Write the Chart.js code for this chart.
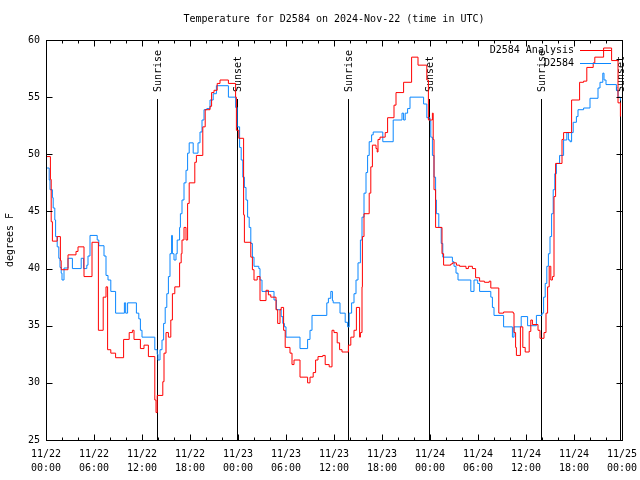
<!DOCTYPE html>
<html>
<head>
<meta charset="utf-8">
<script src="https://cdn.jsdelivr.net/npm/chart.js@4/dist/chart.umd.min.js"></script>
<style>
html,body{margin:0;padding:0;background:#fff;}
#wrap{width:640px;height:480px;}
</style>
</head>
<body>
<div id="wrap"><canvas id="c" width="640" height="480"></canvas></div>
<script>
// ---- data (hours since 11/22 00:00 UTC, degrees F) ----
const titleText = 'Temperature for D2584 on 2024-Nov-22 (time in UTC)';
const yAxisTitle = 'degrees F';
const seriesNames = ['D2584 Analysis', 'D2584'];

const xTickDates = ['11/22','11/22','11/22','11/22','11/23','11/23','11/23','11/23','11/24','11/24','11/24','11/24','11/25'];
const xTickTimes = ['00:00','06:00','12:00','18:00','00:00','06:00','12:00','18:00','00:00','06:00','12:00','18:00','00:00'];
const yTickValues = [25, 30, 35, 40, 45, 50, 55, 60];

const sunHours  = [13.83, 23.83, 37.8, 47.83, 61.83, 71.7];
const sunLabels = ['Sunrise','Sunset','Sunrise','Sunset','Sunrise','Sunset'];

const redHours = [0,0.55,0.65,0.8,1.4,1.8,1.9,2.75,3.75,4.0,4.75,5.75,6.55,7.15,7.5,7.7,8.1,8.7,9.7,10.4,10.8,11.0,11.8,12.25,12.8,13.6,13.75,13.9,14.6,14.75,15.0,15.3,15.6,15.8,16.1,16.7,16.9,17.0,17.25,17.5,17.7,17.9,18.6,18.8,19.6,19.9,20.5,20.7,21.0,21.4,21.75,22.8,23.7,23.8,24.1,24.7,24.8,25.6,25.8,26.0,26.4,26.75,27.5,27.8,28.1,28.75,28.96,29.25,29.4,29.7,29.9,30.5,30.75,31.0,31.75,32.7,33.0,33.4,33.7,34.0,34.6,34.9,35.4,35.75,36.0,36.4,36.7,37.0,37.8,38.1,38.5,38.8,39.2,39.3,39.5,39.55,39.75,40.4,40.6,40.8,41.25,41.4,41.5,41.75,42.4,42.7,43.5,43.75,44.7,45.7,46.5,47.6,47.8,48.3,48.4,48.5,48.7,49.5,49.7,50.6,50.8,51.3,51.7,52.5,52.8,53.3,53.7,54.2,54.8,55.4,55.6,56.6,57.2,58.4,58.5,58.7,58.8,59.3,59.6,59.9,60.4,60.6,60.8,61.5,61.75,62.25,62.5,62.7,62.9,63.1,63.3,63.5,63.7,64.5,64.7,65.7,66.7,67.2,67.6,68.4,68.6,69.7,70.7,71.5,71.8];
const redTemps = [49.8,47.8,44.1,42.4,42.8,40.7,39.9,41.2,41.5,41.9,39.3,42.3,34.6,37.5,38.4,32.9,32.6,32.2,33.8,34.4,34.6,33.8,33.0,33.3,32.3,28.5,27.4,28.9,30.1,32.6,34.4,34.0,35.5,37.8,38.4,40.5,41.3,42.5,43.6,42.5,45.7,47.5,49.3,49.9,52.4,53.9,54.2,55.4,55.6,56.2,56.5,56.2,55.0,52.1,51.4,44.7,42.3,41.0,39.9,39.0,39.3,37.2,38.1,37.7,37.5,36.4,35.2,36.4,36.6,34.6,33.1,32.6,31.6,32.0,30.5,30.0,30.5,30.9,32.0,32.3,32.4,31.6,31.4,34.6,34.4,33.5,32.9,32.7,33.3,34.0,34.6,36.6,34.0,34.4,38.4,42.8,44.8,46.6,48.9,50.8,50.5,50.2,51.3,51.5,51.9,53.2,54.3,55.4,56.3,58.5,57.8,56.5,53.0,53.6,51.3,46.9,43.6,41.3,40.3,40.4,40.5,40.3,40.2,40.0,40.2,40.0,39.2,38.9,38.8,38.9,38.3,36.1,36.2,36.1,34.4,33.1,32.4,34.9,33.1,32.7,34.5,35.5,35.1,34.6,33.9,34.4,36.1,38.4,40.2,39.0,39.3,46.3,49.2,51.3,51.9,54.75,56.3,56.4,57.6,58.0,58.5,59.3,58.2,54.5,53.3];

const blueHours = [0,0.4,0.5,0.8,0.9,1.1,1.2,1.4,1.6,1.75,1.9,2.0,2.25,2.75,3.3,4.4,4.7,5.1,5.25,5.5,6.4,6.6,7.25,7.5,7.75,8.1,8.7,9.8,9.96,10.2,11.3,11.6,11.8,12.0,13.6,13.9,14.0,14.25,14.5,14.7,14.9,15.1,15.3,15.5,15.7,15.8,16.0,16.25,16.4,16.7,16.8,17.0,17.25,17.5,17.7,17.9,18.4,19.0,19.25,19.5,19.75,20.1,20.5,20.9,21.3,22.8,23.7,23.9,24.2,24.4,24.6,24.8,25.0,25.2,25.4,25.6,25.8,26.0,26.6,26.75,27.0,28.5,28.8,29.4,29.6,29.8,30.0,31.75,32.7,33.0,33.25,35.1,35.3,35.6,35.8,35.9,36.75,37.4,37.7,37.9,38.2,38.5,38.75,39.0,39.3,39.5,39.75,40.0,40.2,40.4,40.7,40.9,42.1,43.4,44.5,44.7,44.9,45.2,45.5,47.2,47.6,48.0,48.1,48.3,48.5,48.7,48.8,49.1,49.4,49.6,50.8,51.0,51.25,51.5,53.1,53.5,53.96,54.2,55.6,55.8,56.0,57.2,58.3,58.5,59.4,60.2,61.3,62.0,62.2,62.4,62.6,62.8,63.0,63.2,63.4,63.6,63.8,64.2,64.7,65.1,65.3,65.5,65.7,65.9,66.3,66.5,67.2,68.0,69.0,69.25,69.6,69.75,70.0,71.3,71.5,71.8];
const blueTemps = [48.8,47.75,46.9,46.2,45.3,44.25,42.8,41.9,40.9,40.1,39.6,39.0,40.05,40.9,40.0,40.9,40.0,40.3,41.1,42.9,42.5,42.0,41.1,39.4,39.0,38.0,36.1,37.0,36.1,37.0,36.1,35.6,34.6,34.0,32.9,32.5,32.0,32.9,33.75,35.2,36.6,37.8,39.3,41.3,42.9,41.3,40.75,41.3,42.5,43.6,44.8,46.0,47.5,48.6,50.1,51.0,50.1,51.0,51.95,53.0,53.9,54.0,54.75,55.3,56.0,55.0,54.1,52.4,50.6,49.5,48.0,47.1,46.0,44.5,43.6,42.2,41.0,40.2,40.0,39.0,38.0,37.25,36.4,35.8,35.2,34.9,34.0,33.0,33.8,34.6,35.9,37.0,37.4,38.0,37.2,37.0,36.1,35.3,34.9,36.1,37.0,37.8,39.0,40.5,42.5,44.5,46.6,48.4,49.9,51.1,51.7,51.95,51.1,53.0,53.6,53.0,53.6,54.0,55.0,54.4,53.2,52.9,51.5,49.9,48.0,46.0,44.8,43.6,42.2,41.0,40.6,40.2,39.6,39.0,38.0,39.0,38.7,38.0,37.5,36.6,35.9,34.9,34.0,34.9,35.8,35.0,35.9,36.1,37.5,38.7,40.2,41.3,42.8,44.8,46.9,48.3,49.2,49.9,51.25,51.9,51.25,51.1,51.9,52.8,53.3,53.9,54.05,54.9,55.8,56.3,57.1,56.5,56.1,55.6,55.0,54.7];

const redColor = '#ff0000';
const blueColor = '#0a87ff';
const FONT = 'DejaVu Sans Mono';

const toPoints = (xs, ys) => xs.map((h, i) => ({x: h, y: ys[i]}));

const framePlugin = {
  id: 'frame',
  beforeDatasetsDraw(chart) {
    const {ctx, chartArea: a, scales: {x}} = chart;
    ctx.save();
    ctx.strokeStyle = '#000';
    ctx.lineWidth = 1;
    ctx.fillStyle = '#000';
    ctx.font = '10px "' + FONT + '"';
    sunHours.forEach((h, i) => {
      const px = Math.round(x.getPixelForValue(h)) + 0.5;
      ctx.beginPath();
      ctx.moveTo(px, a.top + 59);
      ctx.lineTo(px, a.bottom);
      ctx.stroke();
      ctx.save();
      ctx.translate(px + 1, a.top + 52);
      ctx.rotate(-Math.PI / 2);
      ctx.textAlign = 'left';
      ctx.textBaseline = 'middle';
      ctx.fillText(sunLabels[i], 0, 0);
      ctx.restore();
    });
    ctx.restore();
  },
  afterDraw(chart) {
    const {ctx, chartArea: a, scales: {x, y}} = chart;
    ctx.save();
    ctx.strokeStyle = '#000';
    ctx.lineWidth = 1;
    const L = Math.round(a.left) + 0.5, R = Math.round(a.right) + 0.5;
    const T = Math.round(a.top) + 0.5, B = Math.round(a.bottom) + 0.5;
    ctx.strokeRect(L, T, R - L, B - T);
    ctx.beginPath();
    for (let h = 0; h <= 72; h += 2) {
      const px = Math.round(x.getPixelForValue(h)) + 0.5;
      const len = (h % 6 === 0) ? 6 : 3;
      ctx.moveTo(px, B); ctx.lineTo(px, B - len);
      ctx.moveTo(px, T); ctx.lineTo(px, T + len);
    }
    yTickValues.forEach(v => {
      const py = Math.round(y.getPixelForValue(v)) + 0.5;
      ctx.moveTo(L, py); ctx.lineTo(L + 6, py);
      ctx.moveTo(R, py); ctx.lineTo(R - 6, py);
    });
    ctx.stroke();

    ctx.fillStyle = '#000';
    ctx.font = '10px "' + FONT + '"';
    ctx.textAlign = 'center';
    ctx.textBaseline = 'middle';
    ctx.fillText(titleText, (a.left + a.right) / 2, 19);

    ctx.save();
    ctx.translate(10, 240);
    ctx.rotate(-Math.PI / 2);
    ctx.fillText(yAxisTitle, 0, 0);
    ctx.restore();

    // legend
    const colors = [redColor, blueColor];
    seriesNames.forEach((n, i) => {
      const ly = 50 + i * 13;
      ctx.textAlign = 'right';
      ctx.fillStyle = '#000';
      ctx.fillText(n, 574, ly);
      ctx.strokeStyle = colors[i];
      ctx.beginPath();
      ctx.moveTo(580, ly + 0.5);
      ctx.lineTo(611, ly + 0.5);
      ctx.stroke();
    });
    ctx.restore();
  }
};

Chart.defaults.font.family = FONT;
Chart.defaults.font.size = 10;
Chart.defaults.color = '#000';

new Chart(document.getElementById('c'), {
  type: 'line',
  data: {
    datasets: [
      {label: seriesNames[0], data: toPoints(redHours, redTemps), borderColor: redColor, borderWidth: 1, pointRadius: 0, stepped: true, fill: false},
      {label: seriesNames[1], data: toPoints(blueHours, blueTemps), borderColor: blueColor, borderWidth: 1, pointRadius: 0, stepped: true, fill: false}
    ]
  },
  options: {
    responsive: false,
    animation: false,
    events: [],
    layout: {padding: {top: 40, right: 18, left: 0, bottom: 0}},
    plugins: {legend: {display: false}, title: {display: false}, tooltip: {enabled: false}},
    scales: {
      x: {
        type: 'linear', min: 0, max: 72,
        afterBuildTicks: s => { s.ticks = xTickDates.map((d, i) => ({value: i * 6})); },
        afterFit: s => { s.height = 40; s.paddingLeft = 0; s.paddingRight = 0; },
        grid: {display: false, drawTicks: false},
        border: {display: false},
        ticks: {
          autoSkip: false, maxRotation: 0, minRotation: 0, padding: 8,
          font: {family: FONT, size: 10, lineHeight: 1.35},
          callback: (v, i) => [xTickDates[i], xTickTimes[i]]
        }
      },
      y: {
        type: 'linear', min: 25, max: 60,
        afterBuildTicks: s => { s.ticks = yTickValues.map(v => ({value: v})); },
        afterFit: s => { s.width = 46; s.paddingTop = 0; s.paddingBottom = 0; },
        grid: {display: false, drawTicks: false},
        border: {display: false},
        ticks: {padding: 6, font: {family: FONT, size: 10}}
      }
    }
  },
  plugins: [framePlugin]
});
</script>
</body>
</html>
